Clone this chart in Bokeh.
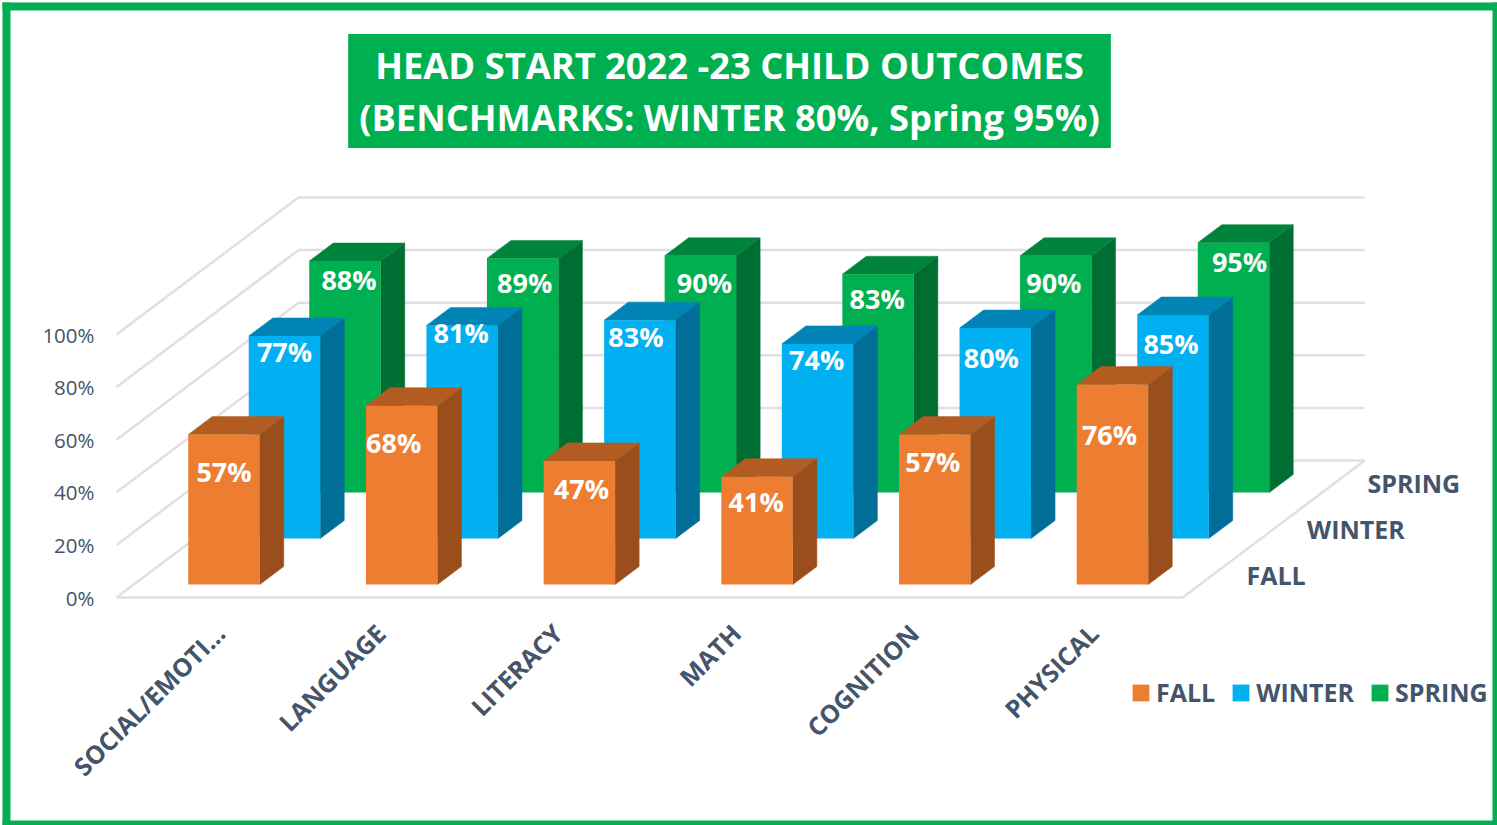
from bokeh.plotting import figure
from bokeh.models import FixedTicker, Label, Legend, LegendItem, PrintfTickFormatter, Range1d
from bokeh.core.properties import value
from bokeh.embed import file_html
from bokeh.resources import INLINE

# ---- data ----
categories = ["SOCIAL/EMOTI...", "LANGUAGE", "LITERACY", "MATH", "COGNITION", "PHYSICAL"]
fall = [57, 68, 47, 41, 57, 76]
winter = [77, 81, 83, 74, 80, 85]
spring = [88, 89, 90, 83, 90, 95]
series_names = ["FALL", "WINTER", "SPRING"]
y_ticks = [0, 20, 40, 60, 80, 100]
title_text = "HEAD START 2022 -23 CHILD OUTCOMES\n(BENCHMARKS: WINTER 80%, Spring 95%)"

# ---- style ----
FONT = "Open Sans"
TXT = "#44546A"
GRID = "#DEE0E5"
GREEN = "#00B050"
front_col = ["#ED7D31", "#00B0F0", "#00B050"]
top_col = ["#B35C22", "#0084B5", "#00843C"]
side_col = ["#9A4E1C", "#006E97", "#006E32"]

# ---- 3-D projection, x unit = one category, y unit = one percent ----
PX_X, PX_Y = 177.7, 2.63
X0_PX, Y0_PX = 223.5, 597        # picture position of category 0 / of 0 %
def ux(px): return (px - X0_PX) / PX_X
def uy(py): return (Y0_PX - py) / PX_Y

BAR_W = 71.5 / PX_X
SIDE_X, SIDE_Y = 24 / PX_X, 18 / PX_Y
ROW_X, ROW_Y = 60.5 / PX_X, 46 / PX_Y
FLOOR_LEFT = ux(116)
BACK_X, BACK_Y = 182 / PX_X, 137 / PX_Y
FRONT_BASE = 13 / PX_Y
N = len(categories)

# label placement relative to the bar (pixels): centre shift and drop below its top
label_dx = [[0, -8, 2, -1, -2, -3], [0, -1, -4, -1, -4, -2], [4, 2, 4, -1, -2, 6]]
label_dy = [[37, 37, 28, 25, 27, 50], [16, 7, 16, 16, 29, 29], [18, 24, 27, 24, 27, 19]]
tick_nudge = [-4, -21, -22, -21, -21, -19]

p = figure(width=1497, height=825, output_backend="svg", toolbar_location=None,
           x_range=Range1d(ux(0), ux(1497)), y_range=Range1d(uy(825), uy(0)),
           min_border_left=0, min_border_right=0, min_border_top=0, min_border_bottom=0,
           outline_line_color=None, background_fill_color="white", border_fill_color="white")
p.grid.visible = False

# frame of the picture: left, top, right, bottom strips
p.quad(left=[ux(2), ux(2), ux(1492), ux(2)], right=[ux(10), ux(1497), ux(1497), ux(1497)],
       bottom=[uy(825), uy(10), uy(825), uy(825)], top=[uy(2), uy(2), uy(2), uy(820)],
       fill_color=GREEN, line_color=None)

# title
p.add_layout(Label(x=ux(729), y=uy(90.5), text=title_text, text_align="center", text_baseline="middle",
                   text_color="white", text_font=FONT, text_font_size="36.3px",
                   text_font_style="bold", text_line_height=1.04, background_fill_color=GREEN,
                   padding=(11, 6)))

# axes
ya = p.yaxis[0]
ya.fixed_location = ux(103)
ya.ticker = FixedTicker(ticks=y_ticks)
ya.formatter = PrintfTickFormatter(format="%d%%")
ya.axis_line_color = None
ya.major_tick_line_color = None
ya.minor_tick_line_color = None
ya.major_label_standoff = 3
ya.major_label_text_color = TXT
ya.major_label_text_font = FONT
ya.major_label_text_font_size = "20.5px"

xa = p.xaxis[0]
xa.fixed_location = uy(600)
pos = [round(i + tick_nudge[i] / PX_X, 4) for i in range(N)]
xa.ticker = FixedTicker(ticks=pos)
xa.major_label_overrides = dict(zip(pos, categories))
xa.major_label_orientation = 0.785
xa.axis_line_color = None
xa.major_tick_line_color = None
xa.minor_tick_line_color = None
xa.major_label_standoff = 22
xa.major_label_text_color = TXT
xa.major_label_text_font = FONT
xa.major_label_text_font_size = "25px"
xa.major_label_text_font_style = "bold"

# walls and floor
grid_x, grid_y = [], []
for v in y_ticks:
    grid_x.append([FLOOR_LEFT, FLOOR_LEFT + BACK_X, FLOOR_LEFT + BACK_X + N])
    grid_y.append([v, v + BACK_Y, v + BACK_Y])
grid_x.append([FLOOR_LEFT, FLOOR_LEFT + N, FLOOR_LEFT + N + BACK_X])
grid_y.append([0, 0, BACK_Y])
p.multi_line(grid_x, grid_y, line_color=GRID, line_width=2.5)

# bars, back row first
rows = [fall, winter, spring]
legend_items = {}
for r in (2, 1, 0):
    vals = rows[r]
    base = FRONT_BASE + r * ROW_Y
    lefts = [i + r * ROW_X - BAR_W / 2 for i in range(N)]
    rights = [l + BAR_W for l in lefts]
    tops = [base + v for v in vals]
    bases = [base] * N
    p.patches([[rt, rt + SIDE_X, rt + SIDE_X, rt] for rt in rights],
              [[base, base + SIDE_Y, t + SIDE_Y, t] for t in tops],
              fill_color=side_col[r], line_color=side_col[r], line_width=0.5)
    p.patches([[l, l + SIDE_X, rt + SIDE_X, rt] for l, rt in zip(lefts, rights)],
              [[t, t + SIDE_Y, t + SIDE_Y, t] for t in tops],
              fill_color=top_col[r], line_color=top_col[r], line_width=0.5)
    legend_items[r] = p.quad(left=lefts, right=rights, bottom=bases, top=tops,
                             fill_color=front_col[r], line_color=None)
    p.text(x=[i + r * ROW_X + label_dx[r][i] / PX_X for i in range(N)],
           y=[t - label_dy[r][i] / PX_Y for i, t in enumerate(tops)],
           text=[f"{v}%" for v in vals], text_color="white", text_align="center",
           text_baseline="middle", text_font=value(FONT), text_font_size="27px",
           text_font_style="bold")

# depth axis labels
depth_x0, depth_y0 = ux(1246), uy(574)
p.text(x=[depth_x0 + r * ROW_X for r in range(3)], y=[depth_y0 + r * ROW_Y for r in range(3)],
       text=series_names, text_color=TXT, text_align="left", text_baseline="middle",
       text_font=value(FONT), text_font_size="25px", text_font_style="bold")

# legend
legend = Legend(items=[LegendItem(label=series_names[r], renderers=[legend_items[r]]) for r in range(3)],
                orientation="horizontal", location=(1130, 116), background_fill_alpha=0,
                border_line_color=None, padding=0, margin=0, spacing=15, label_standoff=5,
                glyph_width=21, glyph_height=21, label_text_color=TXT, label_text_font=FONT,
                label_text_font_size="25px", label_text_font_style="bold")
p.add_layout(legend, "center")

open("out.html", "w").write(file_html(p, INLINE))
